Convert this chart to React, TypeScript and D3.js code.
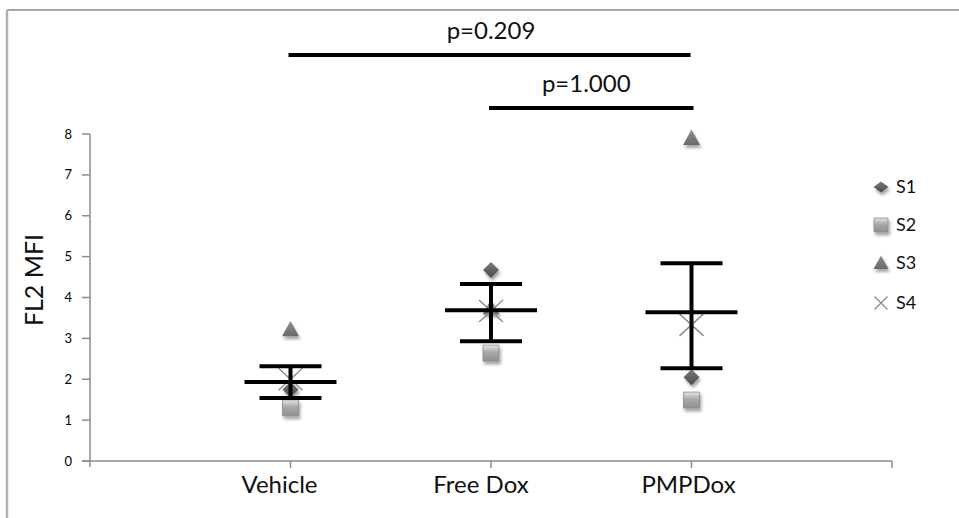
import React from "react";
import * as d3 from "d3";

const categories = ["Vehicle", "Free Dox", "PMPDox"];
const yTicks = [0, 1, 2, 3, 4, 5, 6, 7, 8];
const seriesNames = ["S1", "S2", "S3", "S4"];
const s1 = [1.75, 4.67, 2.05];
const s2 = [1.3, 2.64, 1.49];
const s3 = [3.22, 3.75, 7.9];
const s4 = [2.0, 3.67, 3.33];
const means = [1.93, 3.69, 3.64];
const upper = [2.32, 4.33, 4.84];
const lower = [1.54, 2.93, 2.27];
const pLabels = ["p=0.209", "p=1.000"];
const pFrom = [1, 2];
const pTo = [3, 3];

const W = 959;
const H = 518;
const FONT = "Lato, 'Open Sans', 'Liberation Sans', sans-serif";

const x = d3.scaleLinear().domain([0, 4]).range([90, 892]);
const y = d3.scaleLinear().domain([0, 8]).range([461, 134]);
const labelDx = [-11, -10, -3];

function diamond(cx: number, cy: number, r: number, ry = r) {
  return `M${cx},${cy - ry}L${cx + r},${cy}L${cx},${cy + ry}L${cx - r},${cy}Z`;
}
function square(cx: number, cy: number, r: number) {
  return `M${cx - r},${cy - r}H${cx + r}V${cy + r}H${cx - r}Z`;
}
function triangle(cx: number, cy: number, r: number) {
  return `M${cx},${cy - r}L${cx + r},${cy + r * 0.8}L${cx - r},${cy + r * 0.8}Z`;
}
function cross(cx: number, cy: number, r: number, ry = r) {
  return `M${cx - r},${cy - ry}L${cx + r},${cy + ry}M${cx - r},${cy + ry}L${cx + r},${cy - ry}`;
}

function Marker({ kind, cx, cy, legend }: { kind: number; cx: number; cy: number; legend?: boolean }) {
  if (kind === 0)
    return <path d={diamond(cx, cy, legend ? 7.5 : 8, legend ? 5.5 : 8)} fill="url(#gDia)" filter="url(#sh)" />;
  if (kind === 1)
    return <path d={square(cx, cy, legend ? 7 : 8)} fill="url(#gSq)" stroke="#8a8a8a" strokeWidth={0.8} filter="url(#sh)" />;
  if (kind === 2)
    return <path d={triangle(cx, cy, legend ? 7.5 : 8.5)} fill="url(#gTri)" filter="url(#sh)" />;
  return (
    <path
      d={cross(cx, cy, legend ? 6.5 : 12, legend ? 6.5 : 11)}
      stroke="#8c8c8c"
      strokeWidth={1.4}
      fill="none"
    />
  );
}

export default function App() {
  const series = [s1, s2, s3, s4];
  const legendY = [187, 225, 263, 303];
  const meanHalf = 46;
  const capHalf = 31;
  return (
    <svg width={W} height={H} style={{ position: "absolute", left: 0, top: 0, background: "#fff" }} fontFamily={FONT}>
      <defs>
        <linearGradient id="gDia" x1="0" y1="0" x2="0" y2="1">
          <stop offset="0" stopColor="#7a7a7a" />
          <stop offset="1" stopColor="#4a4a4a" />
        </linearGradient>
        <linearGradient id="gSq" x1="0" y1="0" x2="0" y2="1">
          <stop offset="0" stopColor="#e6e6e6" />
          <stop offset="0.45" stopColor="#a8a8a8" />
          <stop offset="1" stopColor="#909090" />
        </linearGradient>
        <linearGradient id="gTri" x1="0" y1="0" x2="0" y2="1">
          <stop offset="0" stopColor="#8e8e8e" />
          <stop offset="1" stopColor="#6a6a6a" />
        </linearGradient>
        <filter id="sh" x="-50%" y="-50%" width="200%" height="200%">
          <feDropShadow dx="1.5" dy="3" stdDeviation="1.5" floodColor="#000" floodOpacity="0.35" />
        </filter>
      </defs>

      {/* chart border */}
      <line x1={7} y1={10} x2={W} y2={10} stroke="#a8a8a8" strokeWidth={2} />
      <line x1={7} y1={10} x2={7} y2={H} stroke="#b0b0b0" strokeWidth={2.5} />

      {/* y axis */}
      <line x1={x(0)} y1={y(8)} x2={x(0)} y2={y(0) + 6} stroke="#8c8c8c" strokeWidth={1.5} />
      {yTicks.map((t) => (
        <g key={t}>
          <line x1={x(0) - 8} x2={x(0)} y1={y(t)} y2={y(t)} stroke="#8c8c8c" strokeWidth={1.5} />
          <text x={72} y={y(t)} dy="0.35em" textAnchor="end" fontSize={13} fill="#000">
            {t}
          </text>
        </g>
      ))}
      <text
        transform={`translate(43,280) rotate(-90)`}
        textAnchor="middle"
        fontSize={25}
        fill="#111"
      >
        FL2 MFI
      </text>

      {/* x axis */}
      <line x1={x(0) - 8} x2={x(4)} y1={y(0)} y2={y(0)} stroke="#8c8c8c" strokeWidth={1.5} />
      {[1, 2, 3, 4].map((t) => (
        <line key={t} x1={x(t)} x2={x(t)} y1={y(0)} y2={y(0) + 7} stroke="#8c8c8c" strokeWidth={1.5} />
      ))}
      {categories.map((c, i) => (
        <text key={c} x={x(i + 1) + labelDx[i]} y={493} textAnchor="middle" fontSize={24} fill="#111">
          {c}
        </text>
      ))}

      {/* points */}
      {series.map((s, k) =>
        s.map((v, i) => <Marker key={`${k}-${i}`} kind={k} cx={x(i + 1)} cy={y(v)} />)
      )}

      {/* error bars */}
      {means.map((m, i) => {
        const cx = x(i + 1);
        return (
          <g key={i} stroke="#000" strokeWidth={4}>
            <line x1={cx} x2={cx} y1={y(upper[i])} y2={y(lower[i])} />
            <line x1={cx - meanHalf} x2={cx + meanHalf} y1={y(m)} y2={y(m)} />
            <line x1={cx - capHalf} x2={cx + capHalf} y1={y(upper[i])} y2={y(upper[i])} />
            <line x1={cx - capHalf} x2={cx + capHalf} y1={y(lower[i])} y2={y(lower[i])} />
          </g>
        );
      })}

      {/* significance */}
      {pLabels.map((p, i) => {
        const ly = i === 0 ? 55 : 108;
        const tx = i === 0 ? (x(pFrom[i]) + x(pTo[i])) / 2 : (x(pFrom[i]) + x(pTo[i])) / 2 - 5;
        return (
          <g key={p}>
            <line x1={x(pFrom[i]) - 2} x2={x(pTo[i]) + (i === 0 ? -1 : 2)} y1={ly} y2={ly} stroke="#000" strokeWidth={4} />
            <text x={tx} y={ly - 16} textAnchor="middle" fontSize={24} fill="#111">
              {p}
            </text>
          </g>
        );
      })}

      {/* legend */}
      {seriesNames.map((n, k) => (
        <g key={n}>
          <Marker kind={k} cx={881} cy={legendY[k]} legend />
          <text x={896} y={legendY[k]} dy="0.35em" fontSize={18} fill="#111">
            {n}
          </text>
        </g>
      ))}
    </svg>
  );
}
